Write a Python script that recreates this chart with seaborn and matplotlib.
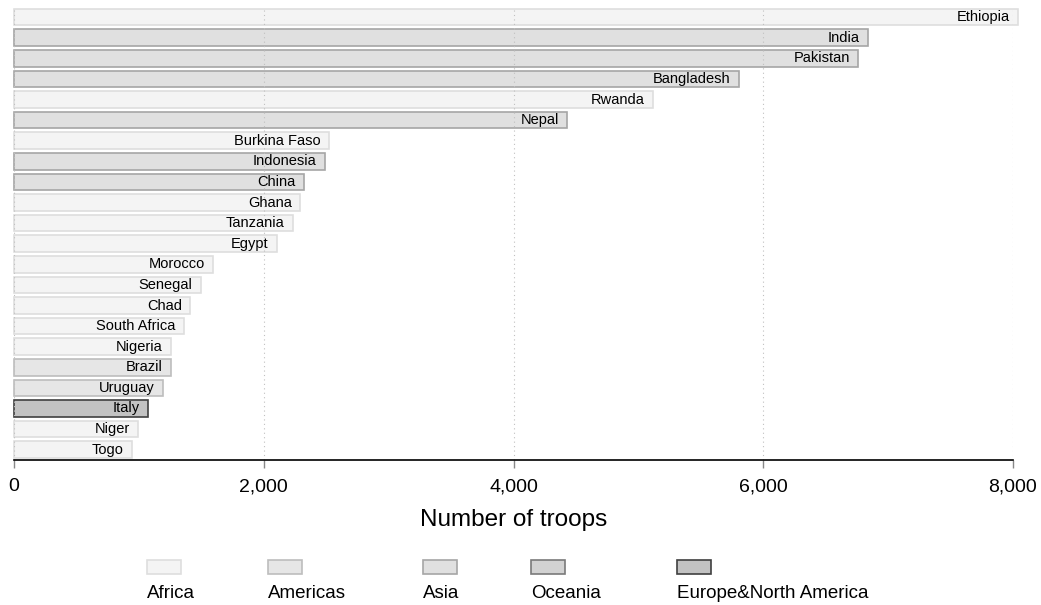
import matplotlib
matplotlib.use("Agg")
import matplotlib.pyplot as plt
import seaborn as sns
import pandas as pd
from matplotlib.patches import Rectangle

# Data
countries = ['Ethiopia', 'India', 'Pakistan', 'Bangladesh', 'Rwanda', 'Nepal',
             'Burkina Faso', 'Indonesia', 'China', 'Ghana', 'Tanzania', 'Egypt',
             'Morocco', 'Senegal', 'Chad', 'South Africa', 'Nigeria', 'Brazil',
             'Uruguay', 'Italy', 'Niger', 'Togo']
troops = [8040, 6840, 6760, 5805, 5115, 4430, 2520, 2490, 2320, 2290, 2235, 2105,
          1595, 1495, 1410, 1360, 1255, 1255, 1190, 1075, 995, 945]
regions = ['Africa', 'Asia', 'Asia', 'Asia', 'Africa', 'Asia', 'Africa', 'Asia',
           'Asia', 'Africa', 'Africa', 'Africa', 'Africa', 'Africa', 'Africa',
           'Africa', 'Africa', 'Americas', 'Americas', 'Europe&North America',
           'Africa', 'Africa']
region_order = ['Africa', 'Americas', 'Asia', 'Oceania', 'Europe&North America']

face = {'Africa': '#f4f4f4', 'Americas': '#e6e6e6', 'Asia': '#e0e0e0',
        'Oceania': '#d2d2d2', 'Europe&North America': '#c2c2c2'}
edge = {'Africa': '#dedede', 'Americas': '#bdbdbd', 'Asia': '#a6a6a6',
        'Oceania': '#7a7a7a', 'Europe&North America': '#404040'}

df = pd.DataFrame({'country': countries, 'troops': troops, 'region': regions})

sns.set_style('white')
plt.rcParams['font.family'] = ['Liberation Sans', 'DejaVu Sans']
plt.rcParams['text.color'] = 'black'
plt.rcParams['xtick.color'] = 'black'
plt.rcParams['axes.labelcolor'] = 'black'

fig = plt.figure(figsize=(10.41, 6.05), dpi=100)
ax = fig.add_axes([0.0135, 0.2397, 0.9596, 0.749])

sns.barplot(data=df, x='troops', y='country', hue='region', hue_order=region_order,
            palette=face, dodge=False, width=0.8, legend=False, ax=ax, zorder=1)

# edge colour per bar, by its country
for p in ax.patches:
    idx = int(round(p.get_y() + p.get_height() / 2))
    if 0 <= idx < len(countries):
        p.set_edgecolor(edge[regions[idx]])
        p.set_linewidth(1.2)
    p.set_clip_on(False)

# labels inside the bar ends
for i, (c, v) in enumerate(zip(countries, troops)):
    ax.annotate(c, xy=(v, i), xytext=(-6, 0), textcoords='offset points',
                ha='right', va='center', fontsize=10.5, color='black', zorder=4,
                annotation_clip=False)

ax.set_xlim(0, 8000)
ax.set_ylim(len(countries) - 0.5, -0.5)
ax.set_xticks([0, 2000, 4000, 6000, 8000])
ax.set_xticklabels(['0', '2,000', '4,000', '6,000', '8,000'], fontsize=14)
ax.set_yticks([])
ax.set_ylabel('')
ax.set_xlabel('Number of troops', fontsize=17.5, labelpad=10)
ax.set_axisbelow(False)
ax.xaxis.grid(True, linestyle=(0, (1, 3)), color='#c0c0c0', linewidth=0.8, zorder=3)
ax.tick_params(axis='x', bottom=True, length=6, width=1, color='#888888', pad=7)
for s in ['top', 'right', 'left']:
    ax.spines[s].set_visible(False)
ax.spines['bottom'].set_color('black')
ax.spines['bottom'].set_linewidth(1.2)
ax.spines['bottom'].set_zorder(5)

# legend below: swatch above label
leg_x = [147, 268, 423, 531, 677]
W, H = 1041, 605
for r, x in zip(region_order, leg_x):
    fig.patches.append(Rectangle((x / W, 1 - 574 / H), 34 / W, 14 / H,
                                 transform=fig.transFigure, facecolor=face[r],
                                 edgecolor=edge[r], linewidth=1.2))
    fig.text(x / W, 1 - 594 / H, r, ha='left', va='center', fontsize=13.5)

fig.savefig('out.png', dpi=100)
